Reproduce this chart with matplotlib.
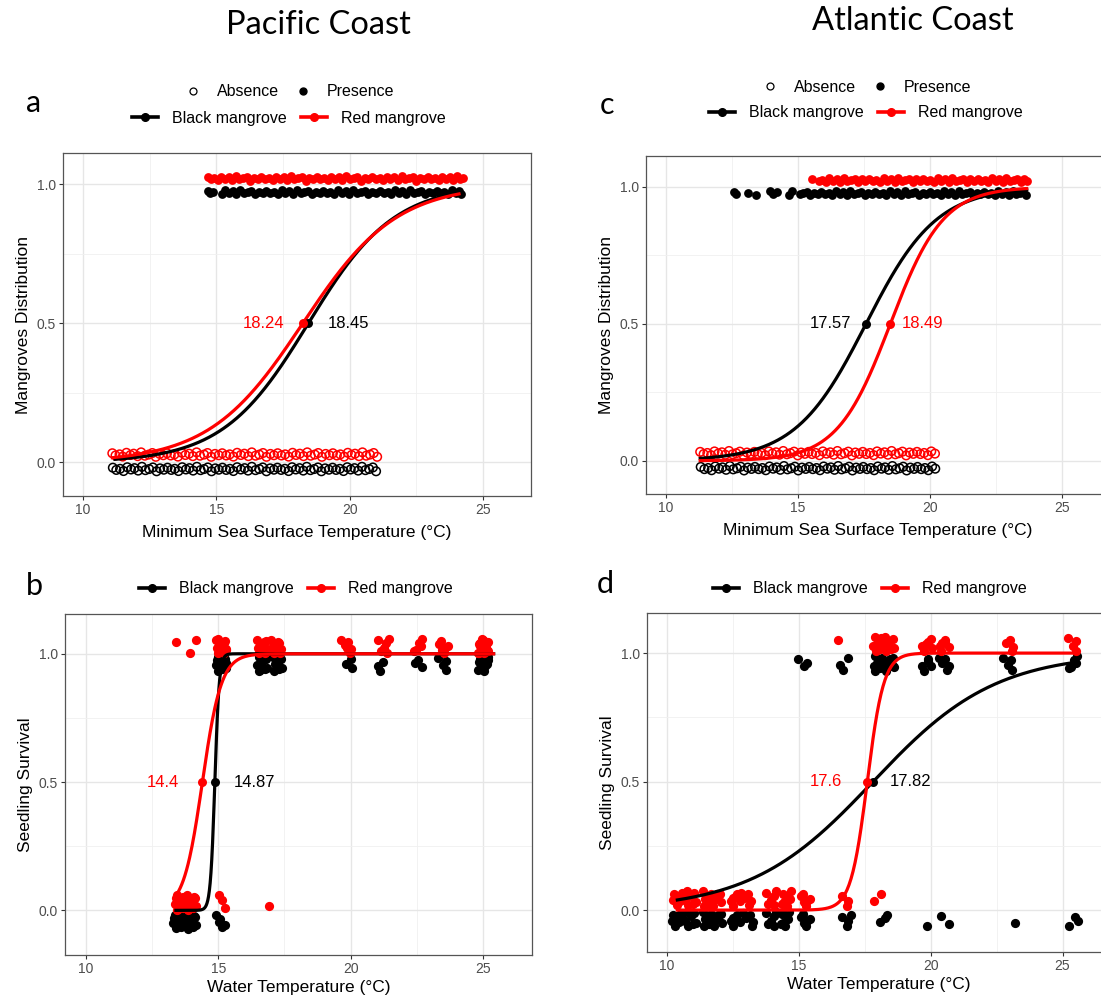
import numpy as np
import matplotlib
matplotlib.use("Agg")
import matplotlib.pyplot as plt
from matplotlib.lines import Line2D

plt.rcParams['font.family'] = ['Liberation Sans', 'DejaVu Sans']

W, H = 1101, 997

# ---------------- data: panel a (Pacific, sea surface temperature) ----------------
A_PRES_BLACK_X = [14.70, 14.77, 14.86, 15.21, 15.33, 15.47, 15.62, 15.74, 15.90, 16.03, 16.18, 16.31,
                  16.45, 16.61, 16.74, 16.88, 17.02, 17.17, 17.30, 17.46, 17.59, 17.73, 17.88, 18.01,
                  18.16, 18.29, 18.44, 18.58, 18.72, 18.87, 19.00, 19.15, 19.28, 19.43, 19.57, 19.71,
                  19.86, 19.99, 20.14, 20.28, 20.42, 20.57, 20.70, 20.85, 20.99, 21.13, 21.27, 21.42,
                  21.55, 21.70, 21.84, 21.98, 22.13, 22.26, 22.41, 22.55, 22.69, 22.84, 22.97, 23.12,
                  23.26, 23.40, 23.55, 23.68, 23.83, 23.97, 24.10, 24.19]
A_PRES_RED_X = [14.68, 14.80, 14.93, 15.05, 15.19, 15.31, 15.46, 15.58, 15.73, 15.86, 16.00, 16.14,
                16.27, 16.42, 16.55, 16.69, 16.83, 16.96, 17.11, 17.24, 17.38, 17.52, 17.65, 17.80,
                17.93, 18.07, 18.21, 18.35, 18.49, 18.62, 18.77, 18.90, 19.04, 19.18, 19.31, 19.46,
                19.59, 19.73, 19.87, 20.01, 20.15, 20.28, 20.43, 20.56, 20.70, 20.84, 20.98, 21.12,
                21.25, 21.40, 21.53, 21.67, 21.81, 21.95, 22.09, 22.22, 22.37, 22.50, 22.64, 22.78,
                22.92, 23.06, 23.19, 23.34, 23.47, 23.61, 23.75, 23.89, 24.03, 24.15, 24.25]
A_ABS_RED_X = [11.10, 11.22, 11.37, 11.49, 11.63, 11.78, 11.90, 12.05, 12.18, 12.32, 12.46, 12.60,
               12.73, 12.88, 13.01, 13.15, 13.29, 13.43, 13.56, 13.71, 13.84, 13.98, 14.12, 14.26,
               14.39, 14.54, 14.67, 14.81, 14.95, 15.09, 15.22, 15.37, 15.50, 15.64, 15.78, 15.92,
               16.05, 16.20, 16.33, 16.47, 16.61, 16.75, 16.88, 17.03, 17.16, 17.30, 17.44, 17.58,
               17.71, 17.86, 17.99, 18.13, 18.27, 18.41, 18.54, 18.69, 18.82, 18.96, 19.10, 19.24,
               19.37, 19.52, 19.65, 19.79, 19.93, 20.07, 20.20, 20.35, 20.48, 20.62, 20.76, 20.90, 21.03]
A_ABS_BLACK_X = [11.12, 11.25, 11.39, 11.52, 11.66, 11.80, 11.93, 12.07, 12.21, 12.34, 12.48, 12.62,
                 12.76, 12.89, 13.03, 13.17, 13.31, 13.44, 13.58, 13.72, 13.86, 13.99, 14.13, 14.27,
                 14.41, 14.54, 14.68, 14.82, 14.96, 15.09, 15.23, 15.37, 15.51, 15.64, 15.78, 15.92,
                 16.06, 16.19, 16.33, 16.47, 16.61, 16.74, 16.88, 17.02, 17.16, 17.29, 17.43, 17.57,
                 17.71, 17.84, 17.98, 18.12, 18.26, 18.39, 18.53, 18.67, 18.81, 18.94, 19.08, 19.22,
                 19.36, 19.49, 19.63, 19.77, 19.91, 20.04, 20.18, 20.32, 20.46, 20.59, 20.73, 20.87, 20.99]

# ---------------- data: panel c (Atlantic, sea surface temperature) ----------------
C_PRES_BLACK_X = [12.58, 12.66, 13.12, 13.42, 13.95, 14.04, 14.22, 14.66, 14.76, 15.08, 15.20, 15.34,
                  15.47, 15.61, 15.75, 15.88, 16.02, 16.16, 16.29, 16.43, 16.57, 16.70, 16.84, 16.98,
                  17.11, 17.25, 17.39, 17.52, 17.66, 17.80, 17.93, 18.07, 18.21, 18.34, 18.48, 18.62,
                  18.75, 18.89, 19.03, 19.16, 19.30, 19.44, 19.57, 19.71, 19.85, 19.98, 20.12, 20.26,
                  20.39, 20.53, 20.67, 20.80, 20.94, 21.08, 21.21, 21.35, 21.49, 21.62, 21.76, 21.90,
                  22.03, 22.17, 22.31, 22.44, 22.58, 22.72, 22.85, 22.99, 23.13, 23.26, 23.40, 23.52, 23.63]
C_PRES_RED_X = [15.53, 15.80, 15.92, 16.05, 16.19, 16.32, 16.46, 16.60, 16.73, 16.87, 17.01, 17.14,
                17.28, 17.42, 17.55, 17.69, 17.83, 17.96, 18.10, 18.24, 18.37, 18.51, 18.65, 18.78,
                18.92, 19.06, 19.19, 19.33, 19.47, 19.60, 19.74, 19.88, 20.01, 20.15, 20.29, 20.42,
                20.56, 20.70, 20.83, 20.97, 21.11, 21.24, 21.38, 21.52, 21.65, 21.79, 21.93, 22.06,
                22.20, 22.34, 22.47, 22.61, 22.75, 22.88, 23.02, 23.16, 23.29, 23.43, 23.55, 23.65]
C_ABS_RED_X = [11.30, 11.43, 11.57, 11.71, 11.84, 11.98, 12.12, 12.25, 12.39, 12.53, 12.66, 12.80,
               12.94, 13.07, 13.21, 13.35, 13.48, 13.62, 13.76, 13.89, 14.03, 14.17, 14.30, 14.44,
               14.58, 14.71, 14.85, 14.99, 15.12, 15.26, 15.40, 15.53, 15.67, 15.81, 15.94, 16.08,
               16.22, 16.35, 16.49, 16.63, 16.76, 16.90, 17.04, 17.17, 17.31, 17.45, 17.58, 17.72,
               17.86, 17.99, 18.13, 18.27, 18.40, 18.54, 18.68, 18.81, 18.95, 19.09, 19.22, 19.36,
               19.50, 19.63, 19.77, 19.91, 20.04, 20.18]
C_ABS_BLACK_X = [11.32, 11.46, 11.60, 11.73, 11.87, 12.01, 12.14, 12.28, 12.42, 12.55, 12.69, 12.83,
                 12.96, 13.10, 13.24, 13.37, 13.51, 13.65, 13.78, 13.92, 14.06, 14.19, 14.33, 14.47,
                 14.60, 14.74, 14.88, 15.01, 15.15, 15.29, 15.42, 15.56, 15.70, 15.83, 15.97, 16.11,
                 16.24, 16.38, 16.52, 16.65, 16.79, 16.93, 17.06, 17.20, 17.34, 17.47, 17.61, 17.75,
                 17.88, 18.02, 18.16, 18.29, 18.43, 18.57, 18.70, 18.84, 18.98, 19.11, 19.25, 19.39,
                 19.52, 19.66, 19.80, 19.93, 20.07, 20.19]

# ---------------- data: panel b (Pacific seedlings, treatment temperatures) ----------------
B_PRES_RED_T = [13.55, 14.02, 15.10, 16.65, 17.20, 19.85, 21.25, 22.50, 23.50, 25.00]
B_PRES_RED_N = [1, 2, 16, 12, 10, 6, 6, 5, 6, 16]
B_PRES_BLACK_T = [15.10, 16.65, 17.20, 19.85, 21.20, 22.50, 23.50, 25.00]
B_PRES_BLACK_N = [14, 10, 8, 3, 3, 3, 4, 14]
B_ABS_RED_T = [13.55, 13.95, 15.15, 16.72]
B_ABS_RED_N = [14, 12, 3, 1]
B_ABS_BLACK_T = [13.50, 13.95, 15.05]
B_ABS_BLACK_N = [12, 10, 5]

# ---------------- data: panel d (Atlantic seedlings, treatment temperatures) ----------------
D_PRES_RED_T = [16.65, 18.00, 18.40, 19.85, 20.50, 22.95, 25.40]
D_PRES_RED_N = [1, 9, 9, 6, 6, 4, 4]
D_PRES_BLACK_T = [15.15, 16.75, 18.00, 18.40, 19.85, 20.50, 22.95, 25.35]
D_PRES_BLACK_N = [3, 3, 9, 9, 5, 5, 4, 5]
D_ABS_RED_T = [10.45, 10.90, 11.50, 11.85, 12.60, 13.00, 13.95, 14.50, 15.25, 16.80, 17.95]
D_ABS_RED_N = [7, 7, 7, 7, 6, 5, 6, 7, 6, 3, 2]
D_ABS_BLACK_T = [10.40, 10.90, 11.50, 11.90, 12.60, 13.10, 13.95, 14.45, 15.25, 16.80, 18.15,
                 20.05, 20.50, 23.05, 25.40]
D_ABS_BLACK_N = [7, 7, 7, 7, 6, 5, 6, 7, 6, 4, 3, 1, 2, 1, 3]

# jitter pattern (relative units)
JIT_DY = [0.6, -0.4, 0.1, -0.9, 0.8, -0.2, 0.4, -0.7, 1.0, -0.5, 0.0, 0.7, -1.0, 0.3, -0.3]
JIT_DX = [-0.8, 0.3, 0.9, -0.4, 0.6, -1.0, 0.0, 0.5, -0.6, 1.0, -0.2, 0.8, -0.5, 0.2]

# fitted logistic curves: midpoint (labelled on chart), slope, x range
MID_A = {'black': 18.45, 'red': 18.24}
K_A = {'black': 0.62, 'red': 0.57}
RANGE_A = {'black': (11.2, 24.1), 'red': (11.1, 24.1)}
MID_B = {'black': 14.87, 'red': 14.4}
K_B = {'black': 12.0, 'red': 2.8}
RANGE_B = {'black': (13.4, 25.4), 'red': (13.5, 25.4)}
MID_C = {'black': 17.57, 'red': 18.49}
K_C = {'black': 0.75, 'red': 1.0}
RANGE_C = {'black': (11.3, 23.65), 'red': (11.3, 23.65)}
MID_D = {'black': 17.82, 'red': 17.6}
K_D = {'black': 0.43, 'red': 3.2}
RANGE_D = {'black': (10.4, 25.5), 'red': (10.4, 25.5)}

COLORS = {'black': 'black', 'red': '#FF0000'}


def band(xs, base, amp):
    xs = np.asarray(xs)
    dy = np.array([JIT_DY[i % len(JIT_DY)] for i in range(len(xs))])
    return xs, base + amp * dy


def clusters(temps, counts, base, dx_amp, dy_amp):
    xs, ys = [], []
    for j, (t, n) in enumerate(zip(temps, counts)):
        for i in range(n):
            k = i + 3 * j
            xs.append(t + dx_amp * JIT_DX[k % len(JIT_DX)])
            ys.append(base + dy_amp * JIT_DY[k % len(JIT_DY)])
    return np.array(xs), np.array(ys)


def logistic(x, mid, k):
    return 1.0 / (1.0 + np.exp(-k * (x - mid)))


def rect(l, t, r, b):
    return [l / W, 1 - b / H, (r - l) / W, (b - t) / H]


def style_axes(ax, xlim, ylim, xlabel, ylabel, xpad):
    ax.set_xlim(*xlim)
    ax.set_ylim(*ylim)
    ax.set_xticks([10, 15, 20, 25])
    ax.set_xticks([12.5, 17.5, 22.5], minor=True)
    ax.set_yticks([0, 0.5, 1.0])
    ax.set_yticklabels(['0.0', '0.5', '1.0'])
    ax.set_yticks([0.25, 0.75], minor=True)
    ax.grid(which='major', color='#E6E6E6', lw=1.0, zorder=0)
    ax.grid(which='minor', color='#F0F0F0', lw=0.6, zorder=0)
    ax.set_axisbelow(True)
    ax.tick_params(which='major', direction='out', length=3, width=0.8, color='#333333',
                   labelcolor='#4D4D4D', labelsize=10, pad=2)
    ax.tick_params(which='minor', length=0)
    for s in ax.spines.values():
        s.set_color('#555555')
        s.set_linewidth(0.9)
    ax.set_xlabel(xlabel, fontsize=12.5, labelpad=xpad)
    ax.set_ylabel(ylabel, fontsize=12.5, labelpad=4)


def draw_curves(ax, mids, ks, ranges, offsets):
    for sp in ['black', 'red']:
        lo, hi = ranges[sp]
        xx = np.linspace(lo, hi, 400)
        ax.plot(xx, logistic(xx, mids[sp], ks[sp]), color=COLORS[sp], lw=2.3, zorder=4)
    for sp in ['black', 'red']:
        ax.scatter([mids[sp]], [0.5], s=42, color=COLORS[sp], zorder=5, linewidths=0)
        off = offsets[sp]
        ax.text(mids[sp] + off, 0.5, f"{mids[sp]:g}", color=COLORS[sp], fontsize=12,
                va='center', ha='left' if off > 0 else 'right', zorder=6)


def draw_bands(ax, specs):
    for xs, base, sp, hollow in specs:
        x, y = band(xs, base, 0.008)
        if hollow:
            ax.scatter(x, y, s=38, facecolors='none', edgecolors=COLORS[sp], linewidths=1.1, zorder=3)
        else:
            ax.scatter(x, y, s=40, color=COLORS[sp], linewidths=0, zorder=3)


def draw_clusters(ax, specs):
    for temps, counts, base, sp in specs:
        x, y = clusters(temps, counts, base, 0.2, 0.028)
        ax.scatter(x, y, s=44, color=COLORS[sp], linewidths=0, zorder=3)


fig = plt.figure(figsize=(W / 100, H / 100), dpi=100)

# ---- panel a ----
ax_a = fig.add_axes(rect(63, 153, 531, 496))
draw_bands(ax_a, [(A_ABS_BLACK_X, -0.024, 'black', True), (A_PRES_BLACK_X, 0.972, 'black', False),
                  (A_ABS_RED_X, 0.028, 'red', True), (A_PRES_RED_X, 1.022, 'red', False)])
draw_curves(ax_a, MID_A, K_A, RANGE_A, {'black': 0.74, 'red': -0.70})
style_axes(ax_a, (9.25, 26.8), (-0.121, 1.113), 'Minimum Sea Surface Temperature (°C)',
           'Mangroves Distribution', 6)

# ---- panel c ----
ax_c = fig.add_axes(rect(646, 156, 1110, 494))
draw_bands(ax_c, [(C_ABS_BLACK_X, -0.027, 'black', True), (C_PRES_BLACK_X, 0.977, 'black', False),
                  (C_ABS_RED_X, 0.028, 'red', True), (C_PRES_RED_X, 1.025, 'red', False)])
draw_curves(ax_c, MID_C, K_C, RANGE_C, {'black': -0.57, 'red': 0.45})
style_axes(ax_c, (9.25, 26.8), (-0.121, 1.113), 'Minimum Sea Surface Temperature (°C)',
           'Mangroves Distribution', 6)

# ---- panel b ----
ax_b = fig.add_axes(rect(65, 614, 532, 955))
draw_clusters(ax_b, [(B_ABS_BLACK_T, B_ABS_BLACK_N, -0.045, 'black'),
                     (B_PRES_BLACK_T, B_PRES_BLACK_N, 0.96, 'black'),
                     (B_ABS_RED_T, B_ABS_RED_N, 0.03, 'red'),
                     (B_PRES_RED_T, B_PRES_RED_N, 1.03, 'red')])
draw_curves(ax_b, MID_B, K_B, RANGE_B, {'black': 0.72, 'red': -0.89})
style_axes(ax_b, (9.21, 26.85), (-0.174, 1.155), 'Water Temperature (°C)', 'Seedling Survival', 3)

# ---- panel d ----
ax_d = fig.add_axes(rect(647, 613, 1110, 952))
draw_clusters(ax_d, [(D_ABS_BLACK_T, D_ABS_BLACK_N, -0.035, 'black'),
                     (D_PRES_BLACK_T, D_PRES_BLACK_N, 0.96, 'black'),
                     (D_ABS_RED_T, D_ABS_RED_N, 0.045, 'red'),
                     (D_PRES_RED_T, D_PRES_RED_N, 1.035, 'red')])
draw_curves(ax_d, MID_D, K_D, RANGE_D, {'black': 0.62, 'red': -0.95})
style_axes(ax_d, (9.25, 26.8), (-0.163, 1.156), 'Water Temperature (°C)', 'Seedling Survival', 3)

# ---- legends ----
shape_h = [Line2D([], [], ls='none', marker='o', mfc='none', mec='black', ms=5, mew=0.9),
           Line2D([], [], ls='none', marker='o', color='black', ms=5)]
color_h = [Line2D([], [], color='black', lw=2.6, marker='o', ms=5.5),
           Line2D([], [], color='#FF0000', lw=2.6, marker='o', ms=5.5)]
leg_kw = dict(loc='center', ncol=2, frameon=False, fontsize=11.5, borderpad=0,
              borderaxespad=0, handletextpad=0.9, columnspacing=0.9)

for cx, y1, y2 in [(289, 92, 118), (866, 87, 113)]:
    fig.legend(shape_h, ['Absence', 'Presence'], bbox_to_anchor=(cx / W, 1 - y1 / H),
               handlelength=1.2, **leg_kw)
    fig.legend(color_h, ['Black mangrove', 'Red mangrove'], bbox_to_anchor=(cx / W, 1 - y2 / H),
               handlelength=1.6, **leg_kw)
for cx, y in [(296, 589), (870, 589)]:
    fig.legend(color_h, ['Black mangrove', 'Red mangrove'], bbox_to_anchor=(cx / W, 1 - y / H),
               handlelength=1.6, **leg_kw)

# ---- titles and panel letters ----
fig.text(318 / W, 1 - 25 / H, 'Pacific Coast', fontsize=23.5, family='Lato', ha='center', va='center')
fig.text(913 / W, 1 - 21 / H, 'Atlantic Coast', fontsize=23.5, family='Lato', ha='center', va='center')
for letter, x, y in [('a', 34, 103), ('b', 34, 586), ('c', 607, 105), ('d', 605, 584)]:
    fig.text(x / W, 1 - y / H, letter, fontsize=22, family='Lato', ha='center', va='center')

fig.savefig('out.png', dpi=100)
